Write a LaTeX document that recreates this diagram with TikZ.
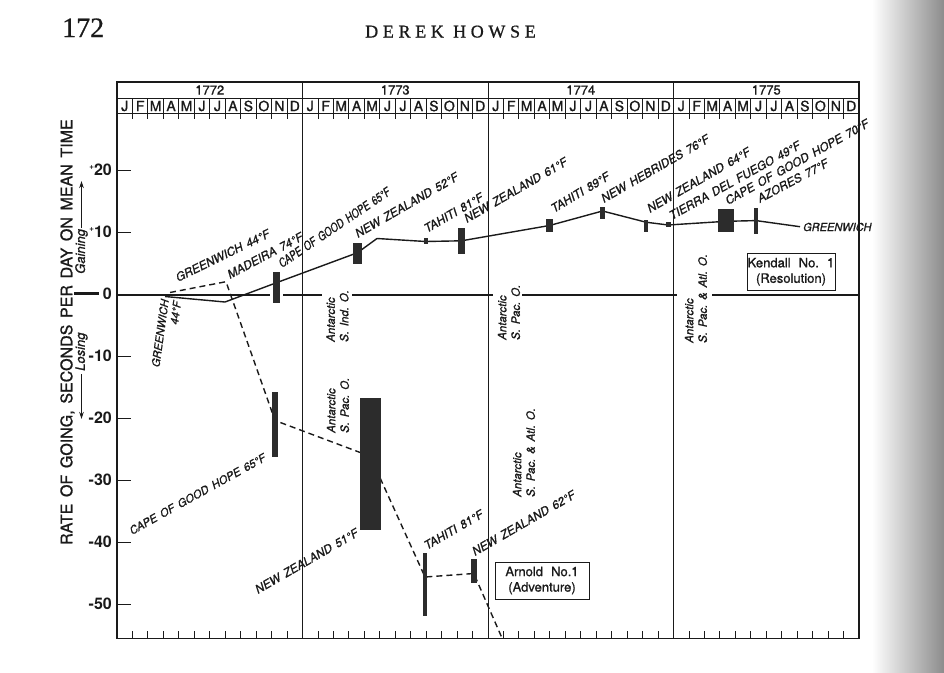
\documentclass[tikz,border=0pt]{standalone}
\usepackage{graphicx}
\usepackage{fontspec}
\setmainfont{TeX Gyre Heros}
\newfontfamily\chartfont[FakeBold=1]{TeX Gyre Heros}
\newfontfamily\headfont[FakeBold=0.8]{Liberation Serif}
\newfontfamily\headspaced[LetterSpace=26,FakeBold=0.8]{Liberation Serif}
\newfontfamily\labfont[WordSpace=1.8,FakeBold=1]{TeX Gyre Heros}
\newfontfamily\boxfont[WordSpace=1.5,FakeBold=1]{TeX Gyre Heros}
\usetikzlibrary{arrows.meta}
\definecolor{ink}{HTML}{1A1A1A}
\definecolor{barc}{HTML}{2C2C2C}
\newcommand\plussign{\smash{\raisebox{0.42em}{\fontsize{8}{8}\selectfont +}}}
\begin{document}
\frenchspacing
\begin{tikzpicture}[x=1pt,y=-1pt,
  frame/.style={draw=ink,line width=1.3pt},
  rule/.style={draw=ink,line width=1pt},
  tick/.style={draw=ink,line width=0.9pt},
  zero/.style={draw=ink,line width=2.2pt},
  kline/.style={draw=ink,line width=1.4pt,line join=round},
  aline/.style={draw=ink,line width=1.4pt,dash pattern=on 6pt off 4pt},
  bar/.style={fill=barc,draw=none,inner sep=0,outer sep=0},
  place/.style={font=\labfont\itshape\fontsize{11.8}{13}\selectfont,text=ink,inner sep=0,anchor=base west},
  ant/.style={font=\chartfont\itshape\fontsize{11.5}{13.5}\selectfont,text=ink,rotate=90,anchor=west,align=left,inner sep=0},
  yearlab/.style={font=\chartfont\fontsize{13}{14}\selectfont,text=ink,inner sep=0},
  monlab/.style={font=\chartfont\fontsize{14}{15}\selectfont,text=ink,inner sep=0},
  ylab/.style={font=\bfseries\fontsize{16}{18}\selectfont,text=ink,anchor=east,inner sep=0},
  keybox/.style={draw=ink,line width=1pt,align=center,font=\boxfont\fontsize{13}{15.5}\selectfont,text=ink,inner sep=0},
  arr/.style={draw=ink,line width=0.9pt,-{Stealth[length=7pt,width=4.5pt]}}
]
\useasboundingbox (0,0) rectangle (944,672);
\fill[white] (0,0) rectangle (944,672);
\shade[left color=white,right color=black!45] (872,0) rectangle (944,672);

% header
\node[font=\headfont\fontsize{28}{30}\selectfont,anchor=base west,inner sep=0,text=ink] (pagenum) at (62,37) {172};
\node[font=\headspaced\fontsize{18}{20}\selectfont,anchor=base west,inner sep=0,text=ink] (author) at (365,37.5) {DEREK HOWSE};

% frame and calendar grid
\draw[frame] (117,82) rectangle (859,638.5);
\draw[rule] (117,98) -- (859,98);
\draw[rule] (117,113.5) -- (859,113.5);
\foreach \i in {1,2,3} \draw[rule] ({117+185.5*\i},82) -- ({117+185.5*\i},638.5);
\foreach \k in {1,...,47} {
  \draw[tick] ({117+15.4583*\k},98) -- ({117+15.4583*\k},118.5);
  \draw[tick] ({117+15.4583*\k},638.5) -- ({117+15.4583*\k},630.5);
}
\foreach \yr [count=\i from 0] in {1772,1773,1774,1775}
  \node[yearlab] (yr\yr) at ({117+185.5*\i+92.75},90) {\yr};
\foreach \i in {0,...,3}
  \foreach \m [count=\k from 0] in {J,F,M,A,M,J,J,A,S,O,N,D}
    \node[monlab] (mo\i-\k) at ({117+185.5*\i+15.4583*\k+7.73},106) {\m};

% y axis
\foreach \v in {20,10,-10,-20,-30,-40,-50} \draw[tick] (117,{294-6.2*\v}) -- (131,{294-6.2*\v});
\node[ylab] (yl20) at (112,170) {\plussign20};
\node[ylab] (yl10) at (112,232) {\plussign10};
\node[ylab] (yl0) at (112,294) {0};
\node[ylab] (ylm10) at (112,356) {-10};
\node[ylab] (ylm20) at (112,418) {-20};
\node[ylab] (ylm30) at (112,480) {-30};
\node[ylab] (ylm40) at (112,542) {-40};
\node[ylab] (ylm50) at (112,604) {-50};
\node[font=\chartfont\fontsize{16}{18}\selectfont,text=ink,rotate=90,anchor=west,inner sep=0] (ytitle) at (67.5,545) {RATE OF GOING, SECONDS PER DAY ON MEAN TIME};
\node[font=\chartfont\itshape\fontsize{13}{15}\selectfont,text=ink,rotate=90,anchor=west,inner sep=0] (gain) at (81.5,274) {Gaining};
\node[font=\chartfont\itshape\fontsize{13}{15}\selectfont,text=ink,rotate=90,anchor=west,inner sep=0] (lose) at (81.5,371) {Losing};
\coordinate (g1) at (81.5,228); \coordinate (g2) at (81.5,181);
\draw[arr] (g1) -- (g2);
\coordinate (l1) at (81.5,374); \coordinate (l2) at (81.5,419);
\draw[arr] (l1) -- (l2);
\coordinate (zm1) at (74,293.5); \coordinate (zm2) at (99,293.5);
\draw[zero] (zm1) -- (zm2);

% zero line (with gaps)
\coordinate (z0) at (117,295); \coordinate (z1) at (270,295);
\coordinate (z2) at (283,295); \coordinate (z3) at (322,295);
\coordinate (z4) at (352,295); \coordinate (z5) at (493,295);
\coordinate (z6) at (522,295); \coordinate (z7) at (677,295);
\coordinate (z8) at (712,295); \coordinate (z9) at (859,295);
\draw[zero] (z0) -- (z1);
\draw[zero] (z2) -- (z3);
\draw[zero] (z4) -- (z5);
\draw[zero] (z6) -- (z7);
\draw[zero] (z8) -- (z9);

% Kendall No. 1 (solid)
\coordinate (k0) at (165,296.5);
\coordinate (k1) at (225,302);
\coordinate (k2) at (276.5,282.7);
\coordinate (k3) at (357.5,252.7);
\coordinate (k4) at (377,238.5);
\coordinate (k5) at (425.7,241.5);
\coordinate (k6) at (461.5,240.8);
\coordinate (k7) at (549.5,225.5);
\coordinate (k8) at (602.5,211);
\coordinate (k9) at (646,222.2);
\coordinate (k10) at (668.2,225);
\coordinate (k11) at (726,221.3);
\coordinate (k12) at (756,220.6);
\coordinate (k13) at (800,226.7);
\draw[kline] (k0) -- (k1) -- (k2) -- (k3) -- (k4) -- (k5) -- (k6) -- (k7) -- (k8) -- (k9) -- (k10) -- (k11) -- (k12) -- (k13);

% Arnold No. 1 (dashed)
\coordinate (a0) at (170,292.5);
\coordinate (a1) at (226,281.7);
\coordinate (a2) at (275,420.5);
\coordinate (a3) at (370.3,456.3);
\coordinate (a4) at (425,577);
\coordinate (a5) at (473.8,573.5);
\coordinate (a6) at (502,638);
\draw[aline] (a0) -- (a1) -- (a2) -- (a3) -- (a4) -- (a5) -- (a6);

% bars
\node[bar,minimum width=7pt,minimum height=31pt] (kb1) at (276.5,287.5) {};
\node[bar,minimum width=9pt,minimum height=21pt] (kb2) at (357.5,253.5) {};
\node[bar,minimum width=3.6pt,minimum height=6pt] (kb3) at (425.7,241) {};
\node[bar,minimum width=7pt,minimum height=26pt] (kb4) at (461.5,241) {};
\node[bar,minimum width=7pt,minimum height=13.5pt] (kb5) at (549.5,225.7) {};
\node[bar,minimum width=5pt,minimum height=12pt] (kb6) at (602.5,213) {};
\node[bar,minimum width=4.5pt,minimum height=12pt] (kb7) at (646,226.2) {};
\node[bar,minimum width=5pt,minimum height=5.6pt] (kb8) at (668.2,224.5) {};
\node[bar,minimum width=16pt,minimum height=23pt] (kb9) at (726,220.8) {};
\node[bar,minimum width=4pt,minimum height=26pt] (kb10) at (756,221) {};
\node[bar,minimum width=6.6pt,minimum height=65pt] (ab1) at (275,424.5) {};
\node[bar,minimum width=20.7pt,minimum height=132pt] (ab2) at (370.3,464) {};
\node[bar,minimum width=4.6pt,minimum height=62.7pt] (ab3) at (425,584.4) {};
\node[bar,minimum width=5.7pt,minimum height=23.7pt] (ab4) at (473.8,570.9) {};

% place labels, Kendall
\node[place,rotate=26] (lk1) at (178,282) {GREENWICH 44°F};
\node[place,rotate=28] (lk2) at (230,279) {MADEIRA 74°F};
\node[place,font=\labfont\itshape\fontsize{12.3}{13}\selectfont,rotate=34] (lk3) at (282,268) {\scalebox{0.78}[1]{CAPE OF GOOD HOPE 65°F}};
\node[place,rotate=30] (lk4) at (358,238) {NEW ZEALAND 52°F};
\node[place,rotate=30] (lk5) at (427,233) {TAHITI 81°F};
\node[place,rotate=30] (lk6) at (467,223) {NEW ZEALAND 61°F};
\node[place,rotate=31] (lk7) at (554,213) {TAHITI 89°F};
\node[place,rotate=30] (lk8) at (604,203) {NEW HEBRIDES 76°F};
\node[place,rotate=30] (lk9) at (650,213) {NEW ZEALAND 64°F};
\node[place,rotate=29] (lk10) at (672,220) {TIERRA DEL FUEGO 49°F};
\node[place,rotate=29] (lk11) at (728,205) {CAPE OF GOOD HOPE 70°F};
\node[place,rotate=28] (lk12) at (760,203) {AZORES 77°F};
\node[place,font=\labfont\itshape\fontsize{11}{13}\selectfont,anchor=west] (lk13) at (803,227) {GREENWICH};

% place labels, Arnold
\node[place,font=\labfont\itshape\fontsize{11}{12.5}\selectfont,rotate=82,anchor=east,align=right] (la1) at (171,300) {GREENWICH\\44°F};
\node[place,font=\labfont\itshape\fontsize{11.2}{13}\selectfont,rotate=29] (la2) at (132,535) {CAPE OF GOOD HOPE 65°F};
\node[place,rotate=30] (la3) at (258,594) {NEW ZEALAND 51°F};
\node[place,rotate=30] (la4) at (427,550) {TAHITI 81°F};
\node[place,rotate=30] (la5) at (475,556) {NEW ZEALAND 62°F};

% Antarctic notes
\node[ant] (an1) at (337.5,342) {Antarctic\\S. Ind. O.};
\node[ant] (an2) at (509,340) {Antarctic\\S. Pac. O.};
\node[ant] (an3) at (696,343) {Antarctic\\S. Pac. \& Atl. O.};
\node[ant] (an4) at (338,433) {Antarctic\\S. Pac. O.};
\node[ant] (an5) at (524,497) {Antarctic\\S. Pac. \& Atl. O.};

% keys
\node[keybox,minimum width=88pt,minimum height=37pt] (kbox) at (791,271.7) {Kendall No. 1\\(Resolution)};
\node[keybox,minimum width=94pt,minimum height=37pt] (abox) at (542,580.5) {Arnold No.1\\(Adventure)};
\end{tikzpicture}
\end{document}
